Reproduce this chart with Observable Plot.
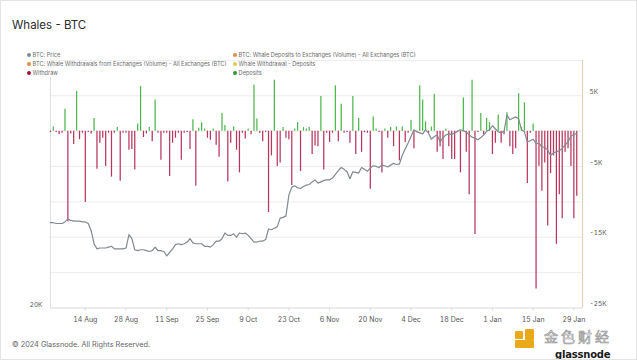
<!DOCTYPE html>
<html><head><meta charset="utf-8">
<script src="https://cdn.jsdelivr.net/npm/d3@7"></script>
<script src="https://cdn.jsdelivr.net/npm/@observablehq/plot@0.6"></script>
<style>
html,body{margin:0;padding:0;background:#fff;}
#page{position:relative;width:637px;height:360px;overflow:hidden;font-family:Inter,"Noto Sans",sans-serif;background:#fff;box-sizing:border-box;border:1px solid #e4e4e4}
#title{position:absolute;left:11px;top:17px;font-size:11.5px;color:#2b2b2b;}
.leg{position:absolute;font-size:5.6px;color:#6a6a6a;white-space:nowrap;line-height:7px}
.leg .dot{display:inline-block;width:4px;height:4px;border-radius:50%;margin-right:1.6px;vertical-align:-0.5px}
#chart{position:absolute;left:-1px;top:-1px}
#footer{position:absolute;left:11px;top:339px;font-size:7.3px;color:#666}
#wm{position:absolute;left:514px;top:325px;width:122px;height:34px}
#wm .logo1{position:absolute;left:0px;top:5px;width:8px;height:8px;background:#e9a91b;border-radius:1px}
#wm .logo2{position:absolute;left:0px;top:14px;width:19px;height:8px;background:#e9a91b;border-radius:1px}
#wm .logo3{position:absolute;left:10px;top:3px;width:9px;height:11px;background:#e9a91b;border-radius:1px}
#wm .cn{position:absolute;left:29px;top:3px;font-family:"Noto Sans CJK SC";font-size:14px;line-height:15px;color:#fff;-webkit-text-stroke:0.7px #9a9a9a;letter-spacing:3px}
#wm .gn{position:absolute;left:40px;top:23px;font-family:"DejaVu Sans";font-weight:bold;font-size:10px;line-height:11px;color:#1a1a1a;letter-spacing:-0.2px}
</style></head><body>
<div id="page">
  <div id="chart"></div>
  <div id="title">Whales - BTC</div>
  <div id="legend"></div>
  <div id="footer">© 2024 Glassnode. All Rights Reserved.</div>
  <div id="wm"><div class="logo1"></div><div class="logo3"></div><div class="logo2"></div><div class="cn">金色财经</div><div class="gn">glassnode</div></div>
</div>
<script>
// ---- data ----
const startDate = [2023, 7, 2]; // 2 Aug 2023, daily series
const netFlow = [
-200,600,-200,-500,-300,3100,-12800,-400,-1900,5600,-1200,-300,-10100,-200,-400,1800,-5400,-1700,-1000,-5000,
-300,-6500,-300,500,-7100,-300,-300,-2700,-2600,-5500,1000,6300,-900,-400,500,-1500,4400,-300,-4100,-300,
-300,-6400,-1700,-1000,-300,-4100,-300,-200,-2600,1600,-7800,400,1200,300,-1000,-1300,300,-2000,-3700,2500,
800,-7200,-1700,600,-2700,-5900,-300,-1100,300,-500,6500,1700,-300,-1500,-200,-11500,-3500,7200,-5000,-4500,
500,-1000,-1200,-7700,300,1200,-5700,500,300,500,-3300,-2100,-2200,4900,-5500,-300,-1600,-300,6400,-1500,
3800,-300,-200,-1700,4900,-3300,1800,-3000,-200,-300,-8200,2000,300,-200,-5900,300,-1000,500,-2200,600,
-4200,600,-1600,-300,1500,-2500,-200,6400,4400,1300,-300,600,5200,-3000,-2200,-4000,300,-2200,-4000,-4000,
-200,-5900,4700,-3000,-9000,7200,-14600,-200,2500,-500,1800,1200,-3300,-1700,2300,-1700,-500,2600,-2200,-3300,
-2500,5300,500,4000,-7400,-300,1000,-22300,-5000,-8500,-4500,-13400,-6000,-3500,-16000,-9000,-12400,-3000,-2500,-5000,
-12400,-9200
];
const priceK = [
29.2,29.2,29.1,29.1,29.1,29.3,29.7,29.5,29.4,29.4,29.4,29.3,29.3,29.1,28.2,26.6,26.0,26.1,26.1,26.1,
26.2,26.3,26.0,26.0,26.0,26.0,26.1,27.7,27.2,25.9,25.8,25.9,25.9,25.8,25.7,25.8,26.2,25.8,25.8,25.7,
25.2,25.6,26.0,26.5,26.6,26.5,26.6,26.8,27.2,26.7,26.6,26.6,26.6,26.3,26.3,26.2,26.5,26.9,26.9,27.2,
27.9,27.6,27.6,27.8,27.4,27.9,27.8,27.9,27.6,27.2,26.8,26.8,26.9,26.9,27.1,28.4,28.3,28.5,28.7,29.8,
29.9,30.1,33.0,34.2,34.4,34.1,34.0,34.3,34.5,34.6,35.0,35.3,34.8,35.0,35.2,35.3,35.3,35.6,36.2,36.8,
37.3,37.0,36.6,35.5,36.6,36.5,36.4,37.3,37.0,36.7,37.2,37.6,37.5,37.3,37.7,37.6,37.4,37.7,38.0,37.8,
37.9,39.4,40.5,41.6,42.8,44.1,43.7,43.5,43.3,44.1,43.5,42.3,42.8,43.1,41.8,42.6,43.1,43.3,43.2,43.5,
43.8,44.1,43.9,43.7,43.1,42.7,42.5,42.2,42.6,43.1,43.8,44.1,44.9,44.3,43.7,43.5,43.8,47.1,46.1,46.4,
46.7,46.3,44.1,43.7,41.8,42.0,42.3,41.5,41.5,40.9,40.8,40.3,39.4,39.8,40.0,40.2,40.6,41.2,41.8,42.9,
43.2,43.4
];
const xTickDates = ["2023-08-14","2023-08-28","2023-09-11","2023-09-25","2023-10-09","2023-10-23","2023-11-06","2023-11-20","2023-12-04","2023-12-18","2024-01-01","2024-01-15","2024-01-29"];
const xTickLabels = ["14 Aug","28 Aug","11 Sep","25 Sep","9 Oct","23 Oct","6 Nov","20 Nov","4 Dec","18 Dec","1 Jan","15 Jan","29 Jan"];
const flowDomain = [-25000, 10000];
const flowGrid = [-25000,-20000,-15000,-10000,-5000,0,5000,10000];
const flowTicks = [5000,-5000,-15000,-25000];
const flowTickLabels = ["5K","-5K","-15K","-25K"];
const priceDomain = [20000, 60000];
const priceTickLabel = "20K";
const legendLabels = [
  "BTC: Price","BTC: Whale Withdrawals from Exchanges (Volume) - All Exchanges (BTC)","Withdraw",
  "BTC: Whale Deposits to Exchanges (Volume) - All Exchanges (BTC)","Whale Withdrawal - Deposits","Deposits"];
const legendColors = ["#7f8b93","#e0913a","#a3173e","#e0913a","#d9cf4f","#2e9e2e"];

// ---- legend ----
const leg = document.getElementById("legend");
legendLabels.forEach((t,i)=>{
  const col = i<3?0:1, row = i%3;
  const el = document.createElement("div");
  el.className="leg";
  el.style.left = (col?232:26)+"px";
  el.style.top = (50.5+row*9.2)+"px";
  el.innerHTML = `<span class="dot" style="background:${legendColors[i]}"></span>${t}`;
  leg.appendChild(el);
});

// ---- chart ----
const dayDate = i => new Date(Date.UTC(startDate[0], startDate[1], startDate[2]+i));
const data = netFlow.map((v,i)=>({date: dayDate(i), flow: v, price: priceK[i]*1000}));
const xDomain = [dayDate(0), dayDate(183)];
// price (log, left axis) placed onto the flow axis range
const priceOnFlowAxis = p => flowDomain[0] + (flowDomain[1]-flowDomain[0]) * Math.log(p/priceDomain[0]) / Math.log(priceDomain[1]/priceDomain[0]);
const tickMap = new Map(xTickDates.map((d,i)=>[+new Date(d+"T00:00:00Z"), xTickLabels[i]]));
const flowLabelMap = new Map(flowTicks.map((v,i)=>[v, flowTickLabels[i]]));

const chart = Plot.plot({
  width: 637, height: 360,
  marginTop: 60, marginBottom: 52, marginLeft: 50, marginRight: 54,
  x: {type: "utc", domain: xDomain},
  y: {domain: flowDomain},
  style: {fontFamily: "Inter, 'Noto Sans', sans-serif", fontSize: "7px", color: "#555", background: "transparent"},
  marks: [
    Plot.ruleY(flowGrid, {stroke: "#ececec", strokeWidth: 1}),
    Plot.ruleX([xDomain[0]], {y1: flowDomain[0], y2: 7600, stroke: "#dedede"}),
    Plot.ruleX([xDomain[1]], {stroke: "#e3d0ad"}),
    Plot.ruleY([flowDomain[0]], {stroke: "#e2e2e2"}),
    Plot.ruleX(data.filter(d=>d.flow<0), {x: "date", y1: 0, y2: "flow", stroke: "#b8365d", strokeWidth: 1.25}),
    Plot.ruleX(data.filter(d=>d.flow>=0), {x: "date", y1: 0, y2: "flow", stroke: "#4cb84a", strokeWidth: 1.25}),
    Plot.line(data, {x: "date", y: d=>priceOnFlowAxis(d.price), stroke: "#7f8a90", strokeWidth: 1.2}),
    Plot.axisX(xTickDates.map(d=>new Date(d+"T00:00:00Z")), {tickSize: 3, tickPadding: 6, stroke: "#dcdcdc", fill: "#555",
      tickFormat: d => tickMap.get(+d), label: null}),
    Plot.axisY(flowTicks, {anchor: "right", tickSize: 0, tickPadding: 7, dy: -4, fill: "#555", fontSize: 6.5,
      tickFormat: v => flowLabelMap.get(v), label: null}),
    Plot.axisY([flowDomain[0]], {anchor: "left", tickSize: 0, tickPadding: 8, dy: -3, fill: "#555", fontSize: 6.5,
      tickFormat: () => priceTickLabel, label: null})
  ]
});
document.getElementById("chart").appendChild(chart);
</script>
</body></html>
